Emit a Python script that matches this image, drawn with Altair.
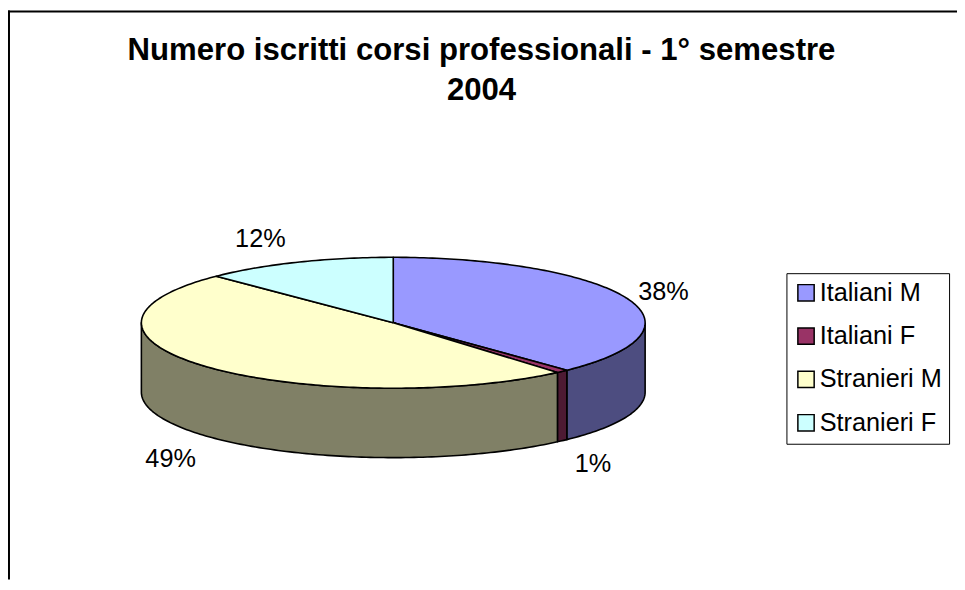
import math
import altair as alt
import pandas as pd

# Values and labels
categories = ["Italiani M", "Italiani F", "Stranieri M", "Stranieri F"]
shares = [37.9, 0.8, 48.9, 12.4]
top_colours = ["#9999FF", "#993366", "#FFFFCC", "#CCFFFF"]
wall_colours = ["#4D4D80", "#4D1A33", "#808066", "#668080"]
title_lines = ["Numero iscritti corsi professionali - 1° semestre", "2004"]
label_pixels = [(669, 300), (598, 473), (172, 468), (262.5, 247)]
title_baselines = [58, 98]

# Pie geometry, in page pixels
OX, OY = 8, 8
CX, CY = 396.5 - OX, 323 - OY
RX, RY, DEPTH = 254, 66, 70
W, H = 957, 574
STEP = 1.0


def arc(a0, a1):
    n = max(2, int(math.ceil((a1 - a0) / STEP)) + 1)
    return [a0 + (a1 - a0) * k / (n - 1) for k in range(n)]


def pt(a, drop=0.0):
    r = math.radians(a)
    return math.sin(r), math.cos(r) - drop


top_rows, wall_rows = [], []
total = sum(shares)
start = 0.0
for name, value, wall in zip(categories, shares, wall_colours):
    end = start + 360.0 * value / total
    poly = [(0.0, 0.0)] + [pt(a) for a in arc(start, end)] + [(0.0, 0.0)]
    for i, (x, y) in enumerate(poly):
        top_rows.append({"slice": name, "i": i, "x": x, "y": y})
    a0, a1 = max(start, 90.0), min(end, 270.0)
    if a1 > a0:
        d = DEPTH / RY
        front = arc(a0, a1)
        poly = [pt(a) for a in front] + [pt(a, d) for a in reversed(front)]
        poly.append(poly[0])
        for i, (x, y) in enumerate(poly):
            wall_rows.append({"slice": name, "i": i, "x": x, "y": y, "colour": wall})
    start = end

x_scale = alt.Scale(domain=[(0 - CX) / RX, (W - CX) / RX], range=[0, W], nice=False, zero=False)
y_scale = alt.Scale(domain=[(CY - H) / RY, CY / RY], range=[H, 0], nice=False, zero=False)
X = alt.X("x:Q", scale=x_scale, axis=None)
Y = alt.Y("y:Q", scale=y_scale, axis=None)

walls = alt.Chart(pd.DataFrame(wall_rows)).mark_line(stroke="black", strokeWidth=1.6, strokeJoin="round").encode(
    x=X, y=Y, order=alt.Order("i:Q"), detail="slice:N",
    fill=alt.Fill("colour:N", scale=None),
)

tops = alt.Chart(pd.DataFrame(top_rows)).mark_line(stroke="black", strokeWidth=1.6, strokeJoin="round").encode(
    x=X, y=Y, order=alt.Order("i:Q"), detail="slice:N",
    fill=alt.Fill(
        "slice:N",
        scale=alt.Scale(domain=categories, range=top_colours),
        sort=categories,
        legend=alt.Legend(
            title=None, orient="none", legendX=785, legendY=265,
            fillColor="white", strokeColor="black", padding=7,
            symbolType="square", symbolSize=270, symbolStrokeColor="black",
            symbolStrokeWidth=1.5, symbolOpacity=1, symbolFillColor="white",
            labelFont="Liberation Sans", labelFontSize=25.5, labelColor="black",
            labelOffset=1, rowPadding=16.7, labelLimit=200,
        ),
    ),
)

layers = [walls, tops]

frame_df = pd.DataFrame({"edge": ["top"]})
layers.append(alt.Chart(frame_df).mark_rule(color="black", strokeWidth=2).encode(
    x=alt.value(0), x2=alt.value(W), y=alt.value(1)))
layers.append(alt.Chart(frame_df).mark_rule(color="black", strokeWidth=2).encode(
    x=alt.value(1), y=alt.value(0), y2=alt.value(H)))

for (px, py), value in zip(label_pixels, shares):
    layers.append(alt.Chart(pd.DataFrame({"t": [f"{round(value)}%"]})).mark_text(
        font="Liberation Sans", fontSize=25.5, color="black", align="center", baseline="alphabetic"
    ).encode(x=alt.value(px - OX), y=alt.value(py - OY), text="t:N"))

for line, py in zip(title_lines, title_baselines):
    layers.append(alt.Chart(pd.DataFrame({"t": [line]})).mark_text(
        font="Liberation Sans", fontSize=31.4, fontWeight="bold", color="black", align="center", baseline="alphabetic"
    ).encode(x=alt.value(485.5 - OX), y=alt.value(py - OY), text="t:N"))

chart = alt.layer(*layers).resolve_scale(fill="independent").properties(
    width=W, height=H, padding=0,
    autosize=alt.AutoSizeParams(type="none"),
    background="white",
).configure_view(stroke=None)

chart.save("out.html", embed_options={"renderer": "svg", "actions": False})
